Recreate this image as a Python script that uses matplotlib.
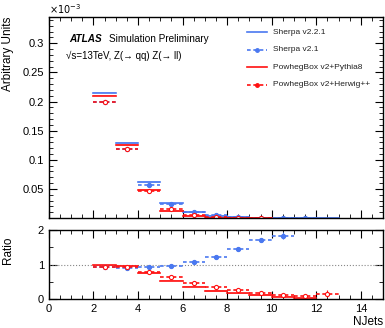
import numpy as np
import matplotlib.pyplot as plt
from matplotlib.ticker import MultipleLocator

# NJets bins (lower edges), width 1
edges = np.arange(2, 13)

# normalised distributions, in units of 1e-3
sherpa221 = [0.2155, 0.129, 0.062, 0.0253, 0.0103, 0.0042, 0.0016, 0.0006, 0.00025, 0.0001, 0.00004]
sherpa21 = [0.200, 0.118, 0.0575, 0.0248, 0.0111, 0.0052, 0.0023, 0.0010, 0.00045, 0.0002, np.nan]
powheg_py8 = [0.2103, 0.126, 0.048, 0.0125, 0.0038, 0.0010, 0.0003, 0.0001, np.nan, np.nan, np.nan]
powheg_hw = [0.200, 0.118, 0.046, 0.0155, 0.0048, 0.0015, 0.0004, 0.00013, np.nan, np.nan, np.nan]

# ratios to Sherpa v2.2.1
ratio_s21 = [0.93, 0.91, 0.92, 0.97, 1.08, 1.23, 1.44, 1.70, 1.83, np.nan, np.nan]
ratio_s21_err = [0.01, 0.01, 0.01, 0.02, 0.02, 0.03, 0.04, 0.06, 0.10, np.nan, np.nan]
ratio_py8 = [0.98, 0.97, 0.75, 0.53, 0.36, 0.24, 0.17, 0.12, 0.07, 0.02, np.nan]
ratio_py8_err = [0.02, 0.02, 0.02, 0.02, 0.02, 0.02, 0.02, 0.02, 0.03, 0.02, np.nan]
ratio_hw = [0.93, 0.92, 0.78, 0.63, 0.47, 0.36, 0.26, 0.19, 0.12, 0.09, 0.15]
ratio_hw_err = [0.01, 0.01, 0.01, 0.01, 0.01, 0.02, 0.02, 0.02, 0.03, 0.03, 0.10]

blue = '#4a78f0'
red = '#ff1010'
dash = (0, (2.2, 1.6))

plt.rcParams['font.family'] = ['Liberation Sans', 'DejaVu Sans']

fig = plt.figure(figsize=(3.85, 3.28), dpi=100)
ax = fig.add_axes([0.127, 0.335, 0.868, 0.613])
rax = fig.add_axes([0.127, 0.088, 0.868, 0.211])


def solid(a, vals, col, band):
    for x, v in zip(edges, vals):
        if np.isnan(v):
            continue
        a.fill_between([x, x + 1], v - band, v + band, color=col, alpha=0.35, lw=0)
        a.plot([x, x + 1], [v, v], color=col, lw=1.2)


def dashed(a, vals, errs, col, face):
    for x, v, e in zip(edges, vals, errs):
        if np.isnan(v):
            continue
        a.plot([x, x + 1], [v, v], color=col, lw=1.2, ls=dash)
        a.errorbar(x + 0.5, v, yerr=e, fmt='o', ms=3, mfc=face, mec=col,
                   mew=0.8, ecolor=col, elinewidth=0.8, capsize=0)


solid(ax, sherpa221, blue, 0.0015)
dashed(ax, sherpa21, [0.0008] * 11, blue, blue)
solid(ax, powheg_py8, red, 0.0015)
dashed(ax, powheg_hw, [0.0008] * 11, red, 'white')

ax.set_xlim(0, 15)
ax.set_ylim(0, 0.345)
ax.set_yticks([0.05, 0.1, 0.15, 0.2, 0.25, 0.3])
ax.set_yticklabels(['0.05', '0.1', '0.15', '0.2', '0.25', '0.3'])
ax.yaxis.set_minor_locator(MultipleLocator(0.01))
ax.xaxis.set_major_locator(MultipleLocator(2))
ax.xaxis.set_minor_locator(MultipleLocator(0.5))
ax.tick_params(labelbottom=False)
ax.set_ylabel('Arbitrary Units', fontsize=8.5, loc='top')
ax.yaxis.set_label_coords(-0.105, 1.0)
ax.text(0.0, 1.005, r'$\times10^{-3}$', transform=ax.transAxes, fontsize=7,
        va='bottom', ha='left')

ax.text(0.06, 0.875, 'ATLAS', transform=ax.transAxes, fontsize=7.2,
        fontweight='bold', style='italic')
ax.text(0.18, 0.875, 'Simulation Preliminary', transform=ax.transAxes, fontsize=7.2)
ax.text(0.05, 0.79, '\u221as=13TeV, Z(\u2192 qq) Z(\u2192 ll)',
        transform=ax.transAxes, fontsize=7)

# legend drawn ROOT-style
labels = ['Sherpa v2.2.1', 'Sherpa v2.1', 'PowhegBox v2+Pythia8', 'PowhegBox v2+Herwig++']
cols = [blue, blue, red, red]
styles = ['-', dash, '-', dash]
marks = [False, True, False, True]
for i, lab in enumerate(labels):
    yy = 0.925 - i * 0.087
    ax.plot([0.594, 0.654], [yy, yy], transform=ax.transAxes, color=cols[i],
            ls=styles[i], lw=1.2)
    if marks[i]:
        ax.plot(0.624, yy, 'o', ms=2.5, color=cols[i], transform=ax.transAxes)
    ax.text(0.67, yy, lab, transform=ax.transAxes, fontsize=6, va='center',
            color='#222222')

# ratio panel
rax.axhline(1, color='#888888', lw=0.8, ls=':')
solid(rax, ratio_py8, red, 0.02)
dashed(rax, ratio_s21, ratio_s21_err, blue, blue)
dashed(rax, ratio_hw, ratio_hw_err, red, 'white')

rax.set_xlim(0, 15)
rax.set_ylim(0, 2)
rax.set_yticks([0, 1, 2])
rax.xaxis.set_major_locator(MultipleLocator(2))
rax.xaxis.set_minor_locator(MultipleLocator(0.5))
rax.yaxis.set_minor_locator(MultipleLocator(0.5))
rax.set_ylabel('Ratio', fontsize=8.5, loc='top')
rax.yaxis.set_label_coords(-0.105, 0.9)
rax.set_xlabel('NJets', fontsize=8.5)
rax.xaxis.set_label_coords(1.0, -0.24)
rax.xaxis.label.set_horizontalalignment('right')

for a in (ax, rax):
    a.tick_params(which='both', direction='in', top=True, right=True, labelsize=8)
    a.tick_params(which='major', length=6)
    a.tick_params(which='minor', length=3)
    for s in a.spines.values():
        s.set_linewidth(1.0)

fig.savefig('out.png', dpi=100)
